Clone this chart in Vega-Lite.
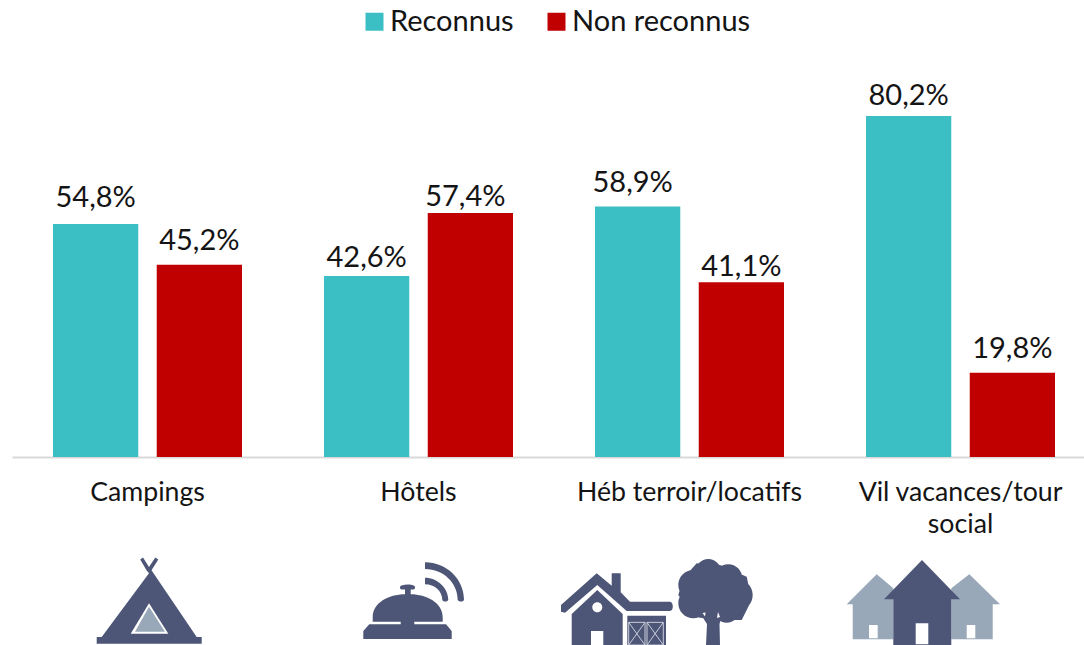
{
"$schema":"https://vega.github.io/schema/vega-lite/v6.json",
"width":1084,"height":645,"padding":0,"autosize":{"type":"none"},"background":"#ffffff",
"config":{"view":{"stroke":null},"font":"Lato","text":{"font":"Lato"}},
"datasets":{
"barres":[
{"categorie":"Campings","statut":"Reconnus","valeur":54.8,"etiquette":"54,8%"},
{"categorie":"Campings","statut":"Non reconnus","valeur":45.2,"etiquette":"45,2%"},
{"categorie":"Hôtels","statut":"Reconnus","valeur":42.6,"etiquette":"42,6%"},
{"categorie":"Hôtels","statut":"Non reconnus","valeur":57.4,"etiquette":"57,4%"},
{"categorie":"Héb terroir/locatifs","statut":"Reconnus","valeur":58.9,"etiquette":"58,9%"},
{"categorie":"Héb terroir/locatifs","statut":"Non reconnus","valeur":41.1,"etiquette":"41,1%"},
{"categorie":"Vil vacances/tour social","statut":"Reconnus","valeur":80.2,"etiquette":"80,2%"},
{"categorie":"Vil vacances/tour social","statut":"Non reconnus","valeur":19.8,"etiquette":"19,8%"}
],
"pictos":[
{"categorie":"Campings","piece":"tente"},
{"categorie":"Campings","piece":"tente-blanc"},
{"categorie":"Campings","piece":"tente-clair"},
{"categorie":"Hôtels","piece":"cloche"},
{"categorie":"Héb terroir/locatifs","piece":"ferme"},
{"categorie":"Héb terroir/locatifs","piece":"ferme-blanc"},
{"categorie":"Vil vacances/tour social","piece":"maisons-clair"},
{"categorie":"Vil vacances/tour social","piece":"maison"},
{"categorie":"Vil vacances/tour social","piece":"maisons-blanc"}
],
"grange":[{"categorie":"Héb terroir/locatifs"}]
},
"encoding":{"x":{"field":"categorie","type":"nominal","title":null,
 "scale":{"domain":["Campings","Hôtels","Héb terroir/locatifs","Vil vacances/tour social"],"range":[12,1096],"paddingInner":0,"paddingOuter":0},
 "axis":{"orient":"bottom","offset":-188,"ticks":false,"grid":false,"domainColor":"#d9d9d9","domainWidth":2,"labelAngle":0,"labelFont":"Lato","labelFontSize":26.7,"labelColor":"#141414","labelPadding":22,"labelLimit":400,"labelOverlap":false,"labelFlush":false,"labelLineHeight":32,"labelExpr":"datum.label == 'Vil vacances/tour social' ? ['Vil vacances/tour','social'] : datum.label"}}
},
"layer":[
{"data":{"name":"barres"},
 "encoding":{"xOffset":{"field":"statut","type":"nominal","sort":null,"scale":{"domain":["Reconnus","Non reconnus"],"range":[41,230],"paddingInner":0.178,"paddingOuter":0}},
 "y":{"field":"valeur","type":"quantitative","axis":null,"title":null,"scale":{"domain":[-44.2,107.48],"nice":false,"zero":false}}},
 "layer":[
 {"mark":{"type":"bar"},
  "encoding":{
  "color":{"field":"statut","type":"nominal","sort":null,"scale":{"domain":["Reconnus","Non reconnus"],"range":["#3BBFC4","#C00000"]},
   "legend":{"title":null,"orient":"none","legendX":360,"legendY":7,"direction":"horizontal","symbolType":"square","symbolSize":324,"symbolStrokeWidth":0,"symbolOpacity":1,"labelFont":"Lato","labelFontSize":29,"labelColor":"#141414","labelOffset":1,"columnPadding":28,"padding":0,"labelLimit":300}}
 }},
 {"transform":[{"filter":{"field":"etiquette","oneOf":["54,8%"]}}],"mark":{"type":"text","font":"Lato","fontSize":29,"color":"#141414","baseline":"bottom","dy":-11},"encoding":{"text":{"field":"etiquette","type":"nominal"}}},
 {"transform":[{"filter":{"field":"etiquette","oneOf":["58,9%"]}}],"mark":{"type":"text","font":"Lato","fontSize":29,"color":"#141414","baseline":"bottom","dy":-9,"dx":-5},"encoding":{"text":{"field":"etiquette","type":"nominal"}}},
 {"transform":[{"filter":{"field":"etiquette","oneOf":["45,2%","19,8%"]}}],"mark":{"type":"text","font":"Lato","fontSize":29,"color":"#141414","baseline":"bottom","dy":-9},"encoding":{"text":{"field":"etiquette","type":"nominal"}}},
 {"transform":[{"filter":{"field":"etiquette","oneOf":["80,2%"]}}],"mark":{"type":"text","font":"Lato","fontSize":29,"color":"#141414","baseline":"bottom","dy":-5},"encoding":{"text":{"field":"etiquette","type":"nominal"}}},
 {"transform":[{"filter":{"field":"etiquette","oneOf":["42,6%"]}}],"mark":{"type":"text","font":"Lato","fontSize":29,"color":"#141414","baseline":"bottom","dy":-3},"encoding":{"text":{"field":"etiquette","type":"nominal"}}},
 {"transform":[{"filter":{"field":"etiquette","oneOf":["41,1%"]}}],"mark":{"type":"text","font":"Lato","fontSize":29,"color":"#141414","baseline":"bottom","dy":0},"encoding":{"text":{"field":"etiquette","type":"nominal"}}},
 {"transform":[{"filter":{"field":"etiquette","oneOf":["57,4%"]}}],"mark":{"type":"text","font":"Lato","fontSize":29,"color":"#141414","baseline":"bottom","dy":-1,"dx":-5},"encoding":{"text":{"field":"etiquette","type":"nominal"}}}
 ]},
{"data":{"name":"pictos"},"mark":{"type":"point","filled":true,"size":4,"strokeWidth":0,"opacity":1},
 "encoding":{
  "y":{"datum":-33.63,"type":"quantitative","axis":null,"title":null,"scale":{"domain":[-44.2,107.48],"nice":false,"zero":false}},
  "shape":{"field":"piece","type":"nominal","legend":null,"scale":{
   "domain":["tente","tente-blanc","tente-clair","cloche","ferme","ferme-blanc","maisons-clair","maison","maisons-blanc"],
   "range":[
   "M-50.8 37H-45.8L1.5 -26.7L-1 -29.8L-7.3 -40.5L-4.5 -42.5L1.5 -33L7.8 -42.5L10.8 -40.5L4 -29.8L49.2 37H54.2V43.7H-50.8Z",
   "M1.5 3.3L20.8 33.7H-16.8Z",
   "M1.5 6.7L17.5 31.7H-12.5Z",
   "M-45.8 21.7V17C-45.8 3 -30 -5.7 -13.5 -5.7V-10.5H-17C-19 -11 -19 -14 -17 -14.5C-13 -15.8 -8 -15.8 -5 -14.5C-3 -14 -3 -11 -5 -10.5H-7.8V-5.7C8 -5.7 24.2 3 24.2 17V21.7H-4.2V24.3H27.5L33.2 31V39H-55.2V31L-49.2 24.3H-17.8V21.7ZM6.5 -37.7C28 -37.7 45.5 -21 45.5 0C44 2 41 2 39.2 0C39.2 -17 25 -31 6.5 -31ZM6.5 -22.3C19 -22.3 29.8 -12 29.8 0C28 2 25.5 2 23.8 0C23.8 -9 16 -15.7 6.5 -15.7Z",
   "M-128.5 5L-92.8 -26.7L-77.8 -14.3V-26.7H-68.8V-7.7L-59.5 1.7H-19.5C-16 2 -15.5 10.5 -19.5 11H-62.8L-92.2 -15L-124.5 12.7L-128.5 11.7ZM-117.8 14L-92.2 -10L-66.8 14V45H-117.8ZM-62.2 15.7H-23.5V45H-62.2ZM-11.2 -5L3.8 16.7L27.2 20L52.2 20L62.2 0L57.2 -23.3L30.5 -35L7.2 -36.7L-6.2 -21.7ZM6.1 -28.3a12.7 12.7 0 1 0 25.4 0a12.7 12.7 0 1 0 -25.4 0ZM24.8 -21.7a14 14 0 1 0 28 0a14 14 0 1 0 -28 0ZM-11.2 -15a15 15 0 1 0 30 0a15 15 0 1 0 -30 0ZM31.2 -5a16 16 0 1 0 32 0a16 16 0 1 0 -32 0ZM-11.2 3.3a15 15 0 1 0 30 0a15 15 0 1 0 -30 0ZM3.8 -5a20 20 0 1 0 40 0a20 20 0 1 0 -40 0ZM24.5 10a12.7 12.7 0 1 0 25.4 0a12.7 12.7 0 1 0 -25.4 0ZM12.2 16L17.5 24L16.5 45H30.5L30 24L32.2 16Z",
   "M-98.5 31H-86.2V45H-98.5ZM-97.2 7.3a5 5 0 1 0 10 0a5 5 0 1 0 -10 0ZM13 13L16 12.5L15.5 16.5ZM28.5 12L30.5 17L27.5 18Z",
   "M-83.8 -25.7L-67.2 -11.7V39.3H-107.8V4.3H-113.8ZM8.8 -25.7L39.5 4.3H32.2V39.3H-9.2V-11.7Z",
   "M-38.5 -40L-0.5 -0.7H-9.2V45H-67.2V-0.7H-76.5Z",
   "M-91.5 25H-82.8V38.3H-91.5ZM6.2 25H14.8V38.3H6.2ZM-44.8 23.3H-32.2V44.3H-44.8Z"
   ]}},
  "color":{"field":"piece","type":"nominal","legend":null,"scale":{
   "domain":["tente","tente-blanc","tente-clair","cloche","ferme","ferme-blanc","maisons-clair","maison","maisons-blanc"],
   "range":["#4E5677","#FFFFFF","#98A8B8","#4E5677","#4E5677","#FFFFFF","#98A8B8","#4E5677","#FFFFFF"]}}
 }},
{"data":{"name":"grange"},"mark":{"type":"point","filled":false,"size":4,"strokeWidth":1,"opacity":1,"color":"#C9CEDA","shape":"M-60.8 22.3H-44.5V45H-60.8ZM-60.8 22.3L-44.5 45M-44.5 22.3L-60.8 45M-42.5 22.3H-26.2V45H-42.5ZM-42.5 22.3L-26.2 45M-26.2 22.3L-42.5 45"},
 "encoding":{
  "y":{"datum":-33.63,"type":"quantitative","axis":null,"title":null,"scale":{"domain":[-44.2,107.48],"nice":false,"zero":false}}
 }}
],
"resolve":{"scale":{"color":"independent"}}
}
